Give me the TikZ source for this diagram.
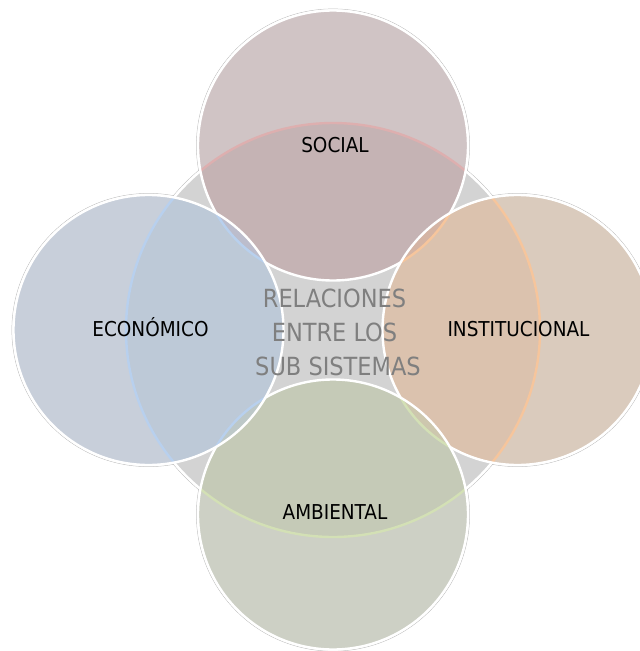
\documentclass[tikz,border=0pt]{standalone}
\usepackage{fontspec}
\newfontfamily\labfont{DejaVu Sans Condensed}
\definecolor{cgray}{HTML}{D3D3D3}
\definecolor{ring}{HTML}{BEBEBE}
\definecolor{socout}{HTML}{D0C4C5}
\definecolor{socin}{HTML}{C5B3B4}
\definecolor{socarc}{HTML}{DDAFAF}
\definecolor{ecoout}{HTML}{C8CFDA}
\definecolor{ecoin}{HTML}{BDC9D7}
\definecolor{ecoarc}{HTML}{B8D0EE}
\definecolor{insout}{HTML}{DACBBD}
\definecolor{insin}{HTML}{DBC2AE}
\definecolor{insarc}{HTML}{F6C59C}
\definecolor{ambout}{HTML}{CDD0C5}
\definecolor{ambin}{HTML}{C5CAB7}
\definecolor{ambarc}{HTML}{D3E0B5}
\definecolor{lensSI}{HTML}{D4B4A4}
\definecolor{lensIA}{HTML}{CDC7AE}
\definecolor{lensAE}{HTML}{BDC8C8}
\definecolor{lensSE}{HTML}{BCBDCC}
\definecolor{midtext}{HTML}{7F7F7F}
\tikzset{
  whiteedge/.style={draw=white,line width=2.4pt},
  ringedge/.style={draw=ring,line width=0.5pt},
  lab/.style={font=\labfont\fontsize{20.5}{24}\selectfont,text=black,inner sep=0pt,anchor=base},
  midlab/.style={font=\labfont\fontsize{25}{30}\selectfont,text=midtext,inner sep=0pt,anchor=base}
}
\begin{document}
\begin{tikzpicture}[x=1pt,y=-1pt]
\useasboundingbox (0,0) rectangle (640,651);
\coordinate (C) at (333,330);
\coordinate (S) at (333,145.5);
\coordinate (E) at (148.5,330);
\coordinate (I) at (517.5,330);
\coordinate (A) at (333,514.5);
% outer grey rings
\foreach \p in {S,E,I,A} {\draw[ringedge] (\p) circle[radius=136.6pt];}
\draw[ringedge] (C) circle[radius=208.6pt];
% central circle
\fill[cgray] (C) circle[radius=207pt];
\draw[whiteedge] (C) circle[radius=207pt];
% ---- SOCIAL ----
\fill[socout] (S) circle[radius=135pt];
\begin{scope}
 \clip (C) circle[radius=207pt];
 \fill[socin] (S) circle[radius=135pt];
\end{scope}
\begin{scope}
 \clip (S) circle[radius=135pt];
 \draw[draw=socarc,line width=2.4pt] (C) circle[radius=207pt];
\end{scope}
\draw[whiteedge] (S) circle[radius=135pt];
% ---- INSTITUCIONAL ----
\fill[insout] (I) circle[radius=135pt];
\begin{scope}
 \clip (C) circle[radius=207pt];
 \fill[insin] (I) circle[radius=135pt];
\end{scope}
\begin{scope}
 \clip (S) circle[radius=135pt];
 \fill[lensSI] (I) circle[radius=135pt];
\end{scope}
\begin{scope}
 \clip (I) circle[radius=135pt];
 \draw[draw=insarc,line width=2.4pt] (C) circle[radius=207pt];
 \draw[draw=insarc,line width=2.4pt] (S) circle[radius=135pt];
\end{scope}
\draw[whiteedge] (I) circle[radius=135pt];
% ---- AMBIENTAL ----
\fill[ambout] (A) circle[radius=135pt];
\begin{scope}
 \clip (C) circle[radius=207pt];
 \fill[ambin] (A) circle[radius=135pt];
\end{scope}
\begin{scope}
 \clip (I) circle[radius=135pt];
 \fill[lensIA] (A) circle[radius=135pt];
\end{scope}
\begin{scope}
 \clip (A) circle[radius=135pt];
 \draw[draw=ambarc,line width=2.4pt] (C) circle[radius=207pt];
 \draw[draw=ambarc,line width=2.4pt] (I) circle[radius=135pt];
\end{scope}
\draw[whiteedge] (A) circle[radius=135pt];
% ---- ECONOMICO ----
\fill[ecoout] (E) circle[radius=135pt];
\begin{scope}
 \clip (C) circle[radius=207pt];
 \fill[ecoin] (E) circle[radius=135pt];
\end{scope}
\begin{scope}
 \clip (A) circle[radius=135pt];
 \fill[lensAE] (E) circle[radius=135pt];
\end{scope}
\begin{scope}
 \clip (S) circle[radius=135pt];
 \fill[lensSE] (E) circle[radius=135pt];
\end{scope}
\begin{scope}
 \clip (E) circle[radius=135pt];
 \draw[draw=ecoarc,line width=2.4pt] (C) circle[radius=207pt];
 \draw[draw=ecoarc,line width=2.4pt] (A) circle[radius=135pt];
 \draw[draw=ecoarc,line width=2.4pt] (S) circle[radius=135pt];
\end{scope}
\draw[whiteedge] (E) circle[radius=135pt];
% ---- labels ----
\node[lab] (tsoc) at (335,152) {SOCIAL};
\node[lab] (teco) at (150.5,336.5) {ECONÓMICO};
\node[lab] (tins) at (518.5,336) {INSTITUCIONAL};
\node[lab] (tamb) at (335,519) {AMBIENTAL};
\node[midlab] (m1) at (334.5,307) {RELACIONES};
\node[midlab] (m2) at (334.5,341) {ENTRE LOS};
\node[midlab] (m3) at (338,375) {SUB SISTEMAS};
\end{tikzpicture}
\end{document}
